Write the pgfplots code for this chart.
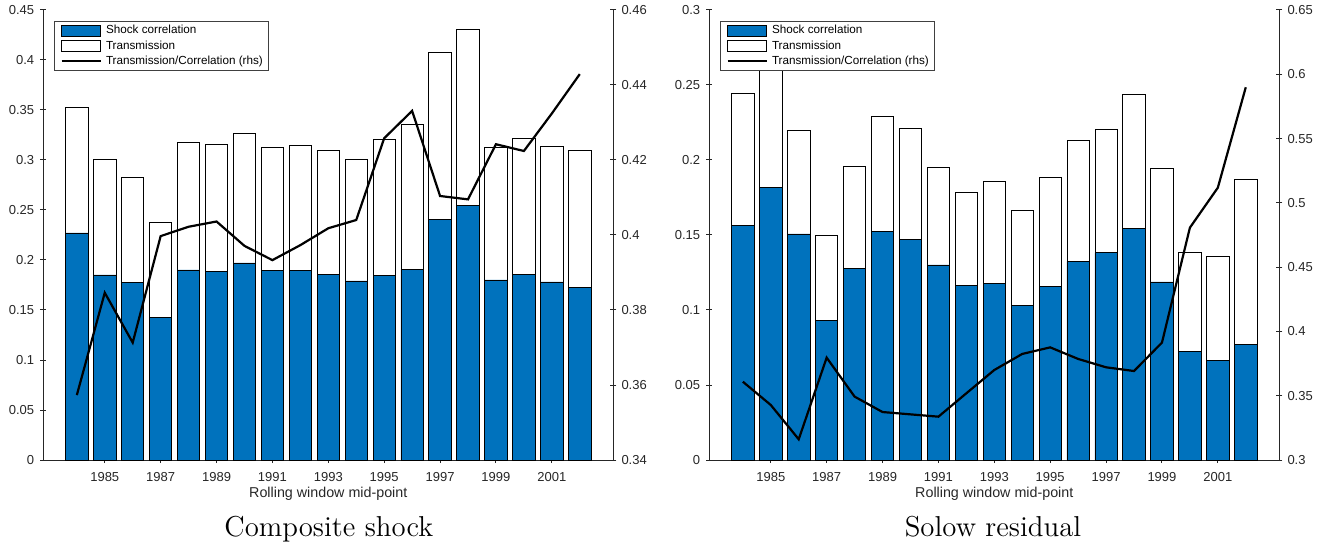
\documentclass[border=0pt]{standalone}
\usepackage{fontspec}
\usepackage{pgfplots}
\pgfplotsset{compat=1.18}
\usepackage{pgfplotstable}
\newfontfamily\helv{Liberation Sans}
\definecolor{mblue}{rgb}{0,0.447,0.741}
\definecolor{axgray}{rgb}{0.15,0.15,0.15}

\pgfplotstableread{
year corr trans ratio
1984 0.2270 0.1257 0.3573
1985 0.1850 0.1157 0.3846
1986 0.1777 0.1050 0.3713
1987 0.1423 0.0950 0.3997
1988 0.1900 0.1277 0.4022
1989 0.1883 0.1274 0.4036
1990 0.1970 0.1300 0.3971
1991 0.1893 0.1230 0.3933
1992 0.1893 0.1250 0.3973
1993 0.1853 0.1247 0.4018
1994 0.1790 0.1213 0.4040
1995 0.1843 0.1364 0.4258
1996 0.1903 0.1454 0.4331
1997 0.2407 0.1673 0.4104
1998 0.2543 0.1767 0.4095
1999 0.1800 0.1323 0.4242
2000 0.1857 0.1360 0.4224
2001 0.1780 0.1357 0.4324
2002 0.1727 0.1366 0.4429
}\compdata

\pgfplotstableread{
year corr trans ratio
1984 0.1562 0.0882 0.3609
1985 0.1816 0.0947 0.3428
1986 0.1507 0.0693 0.3161
1987 0.0929 0.0567 0.3796
1988 0.1278 0.0680 0.3493
1989 0.1522 0.0771 0.3373
1990 0.1471 0.0742 0.3355
1991 0.1300 0.0651 0.3337
1992 0.1162 0.0622 0.3519
1993 0.1176 0.0682 0.3700
1994 0.1031 0.0633 0.3825
1995 0.1158 0.0729 0.3876
1996 0.1324 0.0805 0.3786
1997 0.1382 0.0820 0.3721
1998 0.1542 0.0898 0.3692
1999 0.1187 0.0760 0.3913
2000 0.0722 0.0660 0.4807
2001 0.0664 0.0692 0.5118
2002 0.0769 0.1100 0.5899
}\solowdata

\pgfplotsset{
  barleg/.style={legend image code/.code={\draw[##1,line width=0.4pt] (0pt,-2.7pt) rectangle (19.5pt,2.7pt);}},
  lineleg/.style={legend image code/.code={\draw[##1] (0pt,0pt) -- (19.5pt,0pt);}},
  noarrows/.style={
    axis line style={-, draw=axgray, line width=0.5pt},
    every outer x axis line/.append style={-},
    every outer y axis line/.append style={-},
    every inner x axis line/.append style={-},
    every inner y axis line/.append style={-},
    x axis line style={-}, y axis line style={-},
  },
  base/.style={
    scale only axis, width=285pt, height=225pt,
    xmin=1982.8, xmax=2003.2,
    tick style={draw=axgray, line width=0.5pt},
    major tick length=3pt,
    tick align=inside,
    ticklabel style={font=\helv\fontsize{6.5}{7.5}\selectfont, text=axgray, inner sep=0pt},
  },
  leftax/.style={
    base, axis x line=bottom, axis y line=left, noarrows,
    xtick={1985,1987,1989,1991,1993,1995,1997,1999,2001},
    xticklabels={1985,1987,1989,1991,1993,1995,1997,1999,2001},
    xticklabel style={anchor=base, yshift=-9.0pt},
    yticklabel style={anchor=east, xshift=-2.9pt},
    xlabel={Rolling window mid-point},
    every axis x label/.style={at={(axis description cs:0.5,0)}, anchor=base, yshift=-18.7pt,
      font=\helv\fontsize{7.15}{8.5}\selectfont, text=axgray, inner sep=0pt},
    ybar stacked, bar width=0.8,
  },
  rightax/.style={
    base, axis x line=none, axis y line=right, noarrows,
    yticklabel style={anchor=west, xshift=2.4pt},
    legend style={at={(axis description cs:0.0193,0.976)}, anchor=north west,
      draw=black!75, line width=0.4pt, fill=white,
      font=\helv\fontsize{5.85}{7}\selectfont, text=black,
      inner xsep=2.85pt, inner ysep=1.9pt, row sep=1.8pt, column sep=2.2pt,
      nodes={inner sep=0pt, text height=4.5pt, text depth=1.3pt},
      cells={anchor=west}},
  },
}

\begin{document}
\begin{tikzpicture}
\useasboundingbox (0,0) rectangle (666pt,273pt);

% ---------- Composite shock ----------
\begin{axis}[leftax, at={(21.65pt,43pt)}, anchor=south west,
  ymin=0, ymax=0.45,
  ytick={0,0.05,0.1,0.15,0.2,0.25,0.3,0.35,0.4,0.45},
  yticklabels={0,0.05,0.1,0.15,0.2,0.25,0.3,0.35,0.4,0.45}]
\addplot[fill=mblue, draw=black, line width=0.4pt] table[x=year,y=corr]{\compdata};
\addplot[fill=white, draw=black, line width=0.4pt] table[x=year,y=trans]{\compdata};
\end{axis}
\begin{axis}[rightax, at={(21.65pt,43pt)}, anchor=south west,
  ymin=0.34, ymax=0.46,
  ytick={0.34,0.36,0.38,0.40,0.42,0.44,0.46},
  yticklabels={0.34,0.36,0.38,0.4,0.42,0.44,0.46}]
\addlegendimage{barleg, fill=mblue, draw=black}
\addlegendentry{Shock correlation}
\addlegendimage{barleg, fill=white, draw=black}
\addlegendentry{Transmission}
\addplot[lineleg, black, line width=1.1pt, mark=none] table[x=year,y=ratio]{\compdata};
\addlegendentry{Transmission/Correlation (rhs)}
\end{axis}

% ---------- Solow residual ----------
\begin{axis}[leftax, at={(354.65pt,43pt)}, anchor=south west,
  ymin=0, ymax=0.3,
  ytick={0,0.05,0.1,0.15,0.2,0.25,0.3},
  yticklabels={0,0.05,0.1,0.15,0.2,0.25,0.3}]
\addplot[fill=mblue, draw=black, line width=0.4pt] table[x=year,y=corr]{\solowdata};
\addplot[fill=white, draw=black, line width=0.4pt] table[x=year,y=trans]{\solowdata};
\end{axis}
\begin{axis}[rightax, at={(354.65pt,43pt)}, anchor=south west,
  ymin=0.3, ymax=0.65,
  ytick={0.3,0.35,0.4,0.45,0.5,0.55,0.6,0.65},
  yticklabels={0.3,0.35,0.4,0.45,0.5,0.55,0.6,0.65}]
\addlegendimage{barleg, fill=mblue, draw=black}
\addlegendentry{Shock correlation}
\addlegendimage{barleg, fill=white, draw=black}
\addlegendentry{Transmission}
\addplot[lineleg, black, line width=1.1pt, mark=none] table[x=year,y=ratio]{\solowdata};
\addlegendentry{Transmission/Correlation (rhs)}
\end{axis}

\node[font=\fontsize{14.4}{17}\selectfont, anchor=base] at (164.4pt,4.7pt) {Composite shock};
\node[font=\fontsize{14.4}{17}\selectfont, anchor=base] at (496.5pt,4.7pt) {Solow residual};
\end{tikzpicture}
\end{document}
